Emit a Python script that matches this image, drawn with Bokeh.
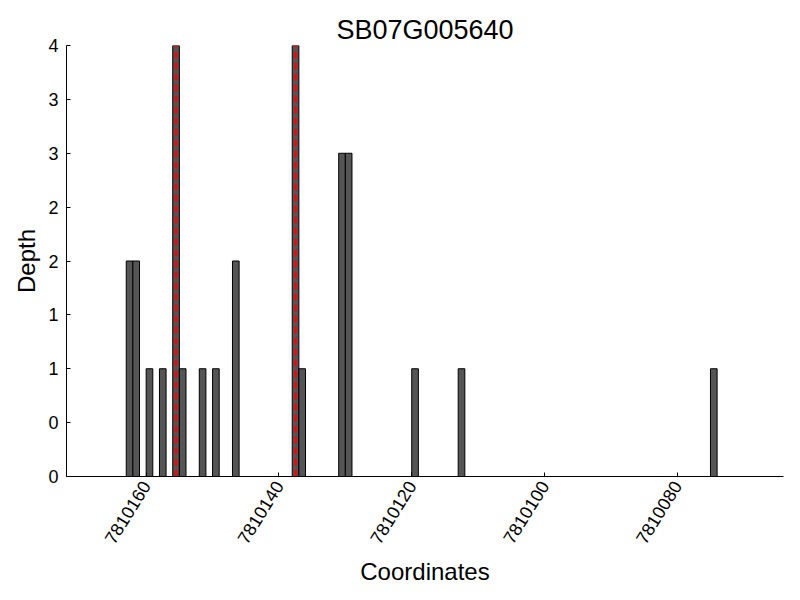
import math
from bokeh.plotting import figure
from bokeh.models import Range1d, FixedTicker, ColumnDataSource
from bokeh.embed import file_html
from bokeh.resources import INLINE

# ---- data ----
coords = [7810162, 7810161, 7810159, 7810157, 7810155, 7810154, 7810151, 7810149,
          7810146, 7810137, 7810136, 7810130, 7810129, 7810119, 7810112, 7810074]
depths = [2, 2, 1, 1, 4, 1, 1, 1, 2, 4, 1, 3, 3, 1, 1, 1]
marked_coords = [7810155, 7810137]
x_ticks = [7810160, 7810140, 7810120, 7810100, 7810080]
x_tick_labels = ["7810160", "7810140", "7810120", "7810100", "7810080"]
y_ticks = [0, 0.5, 1, 1.5, 2, 2.5, 3, 3.5, 4]
y_tick_labels = ["0", "0", "1", "1", "2", "2", "3", "3", "4"]
x_start, x_end = 7810172, 7810064
y_max = 4
title_text = "SB07G005640"

FONT = "Liberation Sans"

p = figure(width=784, height=590, output_backend="svg", toolbar_location=None,
           x_range=Range1d(x_start, x_end), y_range=Range1d(0, y_max),
           min_border_left=66, min_border_right=1, min_border_top=45,
           min_border_bottom=114, title=title_text)

p.title.text_font = FONT
p.title.text_font_size = "27px"
p.title.text_font_style = "normal"
p.title.align = "center"
p.title.text_color = "black"
p.title.standoff = 2

src = ColumnDataSource(dict(left=coords, right=[c + 1 for c in coords],
                            bottom=[0] * len(coords), top=depths))
p.quad(left="left", right="right", bottom="bottom", top="top", source=src,
       fill_color="#555555", line_color="black", line_width=1)

mx = [c + 0.5 for c in marked_coords]
p.segment(x0=mx, x1=mx, y0=[0] * len(mx), y1=[y_max] * len(mx),
          line_color="red", line_width=2.5, line_dash="7 4")

p.xgrid.visible = False
p.ygrid.visible = False
p.outline_line_color = None

for ax in (p.xaxis[0], p.yaxis[0]):
    ax.axis_line_color = "black"
    ax.axis_line_width = 1
    ax.major_tick_in = 4
    ax.major_tick_out = 0
    ax.minor_tick_line_color = None
    ax.major_label_text_font = FONT
    ax.major_label_text_font_size = "18px"
    ax.major_label_text_color = "black"
    ax.axis_label_text_font = FONT
    ax.axis_label_text_font_size = "24px"
    ax.axis_label_text_font_style = "normal"
    ax.axis_label_text_color = "black"

p.xaxis.ticker = FixedTicker(ticks=x_ticks)
p.xaxis.major_label_overrides = dict(zip(x_ticks, x_tick_labels))
p.xaxis.major_label_orientation = math.radians(58)
p.xaxis.major_label_standoff = 6
p.xaxis.axis_label = "Coordinates"
p.xaxis.axis_label_standoff = 6

p.yaxis.ticker = FixedTicker(ticks=y_ticks)
p.yaxis.major_label_overrides = dict(zip(y_ticks, y_tick_labels))
p.yaxis.major_label_standoff = 8
p.yaxis.axis_label = "Depth"

open("out.html", "w").write(file_html(p, INLINE))
